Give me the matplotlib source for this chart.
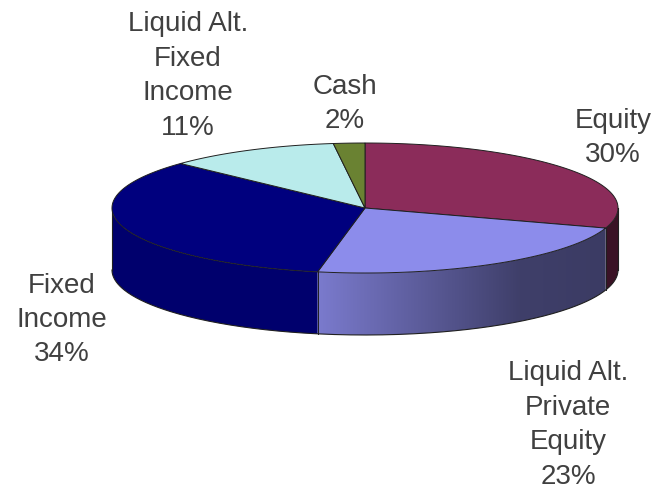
import numpy as np
import matplotlib
matplotlib.use("Agg")
import matplotlib.pyplot as plt
from matplotlib.patches import Polygon

# Data
labels = ["Equity", "Liquid Alt.\nPrivate\nEquity", "Fixed\nIncome", "Liquid Alt.\nFixed\nIncome", "Cash"]
shares = [30, 23, 34, 11, 2]
colors = ["#8B2C5A", "#8C8CEB", "#00007E", "#B9EBEB", "#6A8232"]

# Label centres (pixels)
label_pos = [(613, 138), (568, 425), (62, 320), (188, 76), (345, 104)]

# Pie geometry (pixels)
cx, cy = 365, 208
rx, ry = 253, 65
depth = 62

plt.rcParams['font.family'] = ['Liberation Sans', 'DejaVu Sans']

fig = plt.figure(figsize=(6.65, 4.93), dpi=100)
ax = fig.add_axes([0, 0, 1, 1])


def pt(theta_deg, dy=0):
    t = np.radians(theta_deg)
    return cx + rx * np.cos(t), cy - ry * np.sin(t) + dy


def shade(x):
    return np.interp(x, [320, 520, 618], [0.87, 0.45, 0.42])


# wedge angle ranges, clockwise from 12 o'clock
starts, ends = [], []
a = 90.0
for s in shares:
    starts.append(a)
    a -= 360 * s / 100
    ends.append(a)

# side faces (front half: -180..0 degrees), shaded with a horizontal gradient
xg = np.linspace(cx - rx, cx + rx, 600)
edge_lines = []
for s0, s1, col in zip(starts, ends, colors):
    base = np.array(matplotlib.colors.to_rgb(col))
    for off in (0, -360, 360):
        lo = max(s1 + off, -180)
        hi = min(s0 + off, 0)
        if hi <= lo:
            continue
        th = np.linspace(lo, hi, 200)
        tx, ty = pt(th)
        bx, by = pt(th[::-1], depth)
        verts = list(zip(tx, ty)) + list(zip(bx, by))
        side = Polygon(verts, closed=True, facecolor='none', edgecolor='none')
        ax.add_patch(side)
        img = np.clip(base[None, None, :] * shade(xg)[None, :, None], 0, 1)
        im = ax.imshow(img, extent=(xg[0], xg[-1], cy + ry + depth + 2, cy - 2),
                       aspect='auto', interpolation='bilinear', zorder=1)
        im.set_clip_path(side)
        for t in (lo, hi):
            if -179.9 < t < -0.1:
                edge_lines.append(t)

ax.set_xlim(0, 665)
ax.set_ylim(493, 0)
ax.axis('off')

for t in set(edge_lines):
    x, y = pt(t)
    ax.plot([x, x], [y, y + depth], color="#202020", lw=0.7, zorder=2)

# outline of the side
th = np.linspace(-180, 0, 300)
bx, by = pt(th, depth)
ax.plot(bx, by, color="#202020", lw=0.8, zorder=2)
for t in (-180, 0):
    x, y = pt(t)
    ax.plot([x, x], [y, y + depth], color="#202020", lw=0.8, zorder=2)

# top faces
for s0, s1, col in zip(starts, ends, colors):
    th = np.linspace(s0, s1, 200)
    xs, ys = pt(th)
    verts = [(cx, cy)] + list(zip(xs, ys))
    ax.add_patch(Polygon(verts, closed=True, facecolor=col, edgecolor="#202020",
                         linewidth=0.7, zorder=3))

# labels
for lab, s, (x, y) in zip(labels, shares, label_pos):
    ax.text(x, y, f"{lab}\n{s}%", ha='center', va='center', multialignment='center',
            fontsize=20, color="#404040", linespacing=1.42)

fig.savefig("out.png", dpi=100)
